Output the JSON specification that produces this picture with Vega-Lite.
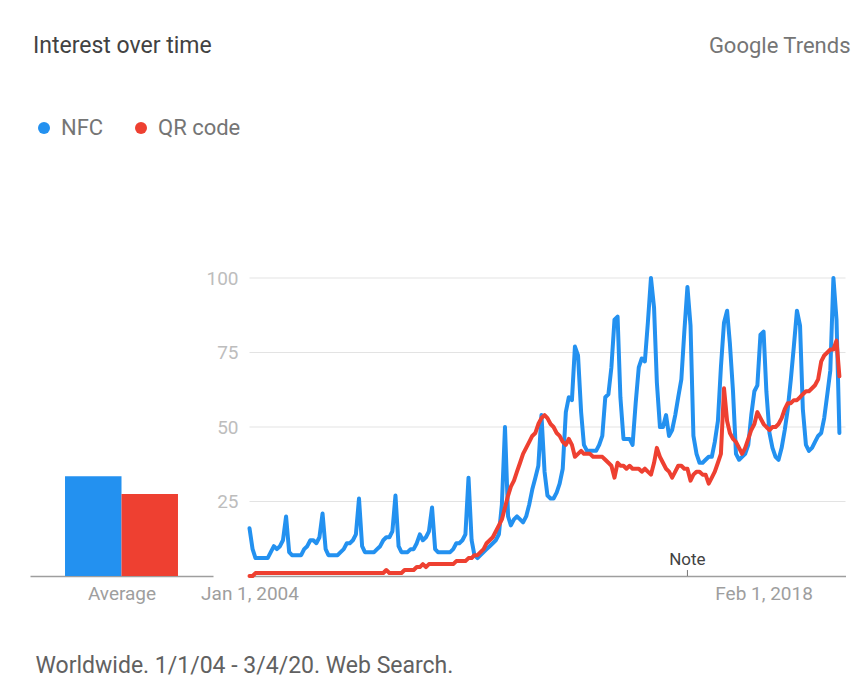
{
  "$schema": "https://vega.github.io/schema/vega-lite/v6.json",
  "width": 864,
  "height": 298,
  "autosize": {"type": "none"},
  "padding": {"left": 0, "top": 278, "right": 0, "bottom": 102},
  "background": "white",
  "config": {"view": {"stroke": null}, "font": "Roboto"},
  "datasets": {
    "averages": [
      {"term": "NFC", "value": 33.5},
      {"term": "QR code", "value": 27.5}
    ],
    "grid": [{"value": 25}, {"value": 50}, {"value": 75}, {"value": 100}],
    "notes": [{"month": "2016-01-01", "note": "Note", "value": 0}],
    "trend": [
      {"month":"2004-01-01","NFC":16,"QR code":0},{"month":"2004-02-01","NFC":9,"QR code":0},{"month":"2004-03-01","NFC":6,"QR code":1},{"month":"2004-04-01","NFC":6,"QR code":1},{"month":"2004-05-01","NFC":6,"QR code":1},{"month":"2004-06-01","NFC":6,"QR code":1},{"month":"2004-07-01","NFC":6,"QR code":1},{"month":"2004-08-01","NFC":8,"QR code":1},{"month":"2004-09-01","NFC":10,"QR code":1},{"month":"2004-10-01","NFC":9,"QR code":1},{"month":"2004-11-01","NFC":10,"QR code":1},{"month":"2004-12-01","NFC":12,"QR code":1},
      {"month":"2005-01-01","NFC":20,"QR code":1},{"month":"2005-02-01","NFC":8,"QR code":1},{"month":"2005-03-01","NFC":7,"QR code":1},{"month":"2005-04-01","NFC":7,"QR code":1},{"month":"2005-05-01","NFC":7,"QR code":1},{"month":"2005-06-01","NFC":7,"QR code":1},{"month":"2005-07-01","NFC":9,"QR code":1},{"month":"2005-08-01","NFC":10,"QR code":1},{"month":"2005-09-01","NFC":12,"QR code":1},{"month":"2005-10-01","NFC":12,"QR code":1},{"month":"2005-11-01","NFC":11,"QR code":1},{"month":"2005-12-01","NFC":13,"QR code":1},
      {"month":"2006-01-01","NFC":21,"QR code":1},{"month":"2006-02-01","NFC":9,"QR code":1},{"month":"2006-03-01","NFC":7,"QR code":1},{"month":"2006-04-01","NFC":7,"QR code":1},{"month":"2006-05-01","NFC":7,"QR code":1},{"month":"2006-06-01","NFC":7,"QR code":1},{"month":"2006-07-01","NFC":8,"QR code":1},{"month":"2006-08-01","NFC":9,"QR code":1},{"month":"2006-09-01","NFC":11,"QR code":1},{"month":"2006-10-01","NFC":11,"QR code":1},{"month":"2006-11-01","NFC":12,"QR code":1},{"month":"2006-12-01","NFC":14,"QR code":1},
      {"month":"2007-01-01","NFC":26,"QR code":1},{"month":"2007-02-01","NFC":10,"QR code":1},{"month":"2007-03-01","NFC":8,"QR code":1},{"month":"2007-04-01","NFC":8,"QR code":1},{"month":"2007-05-01","NFC":8,"QR code":1},{"month":"2007-06-01","NFC":8,"QR code":1},{"month":"2007-07-01","NFC":9,"QR code":1},{"month":"2007-08-01","NFC":10,"QR code":1},{"month":"2007-09-01","NFC":12,"QR code":1},{"month":"2007-10-01","NFC":13,"QR code":2},{"month":"2007-11-01","NFC":13,"QR code":1},{"month":"2007-12-01","NFC":15,"QR code":1},
      {"month":"2008-01-01","NFC":27,"QR code":1},{"month":"2008-02-01","NFC":10,"QR code":1},{"month":"2008-03-01","NFC":8,"QR code":1},{"month":"2008-04-01","NFC":8,"QR code":2},{"month":"2008-05-01","NFC":8,"QR code":2},{"month":"2008-06-01","NFC":9,"QR code":2},{"month":"2008-07-01","NFC":9,"QR code":2},{"month":"2008-08-01","NFC":11,"QR code":3},{"month":"2008-09-01","NFC":14,"QR code":3},{"month":"2008-10-01","NFC":12,"QR code":4},{"month":"2008-11-01","NFC":13,"QR code":3},{"month":"2008-12-01","NFC":15,"QR code":4},
      {"month":"2009-01-01","NFC":23,"QR code":4},{"month":"2009-02-01","NFC":9,"QR code":4},{"month":"2009-03-01","NFC":8,"QR code":4},{"month":"2009-04-01","NFC":8,"QR code":4},{"month":"2009-05-01","NFC":8,"QR code":4},{"month":"2009-06-01","NFC":8,"QR code":4},{"month":"2009-07-01","NFC":8,"QR code":4},{"month":"2009-08-01","NFC":9,"QR code":4},{"month":"2009-09-01","NFC":11,"QR code":5},{"month":"2009-10-01","NFC":11,"QR code":5},{"month":"2009-11-01","NFC":12,"QR code":5},{"month":"2009-12-01","NFC":14,"QR code":5},
      {"month":"2010-01-01","NFC":33,"QR code":6},{"month":"2010-02-01","NFC":12,"QR code":6},{"month":"2010-03-01","NFC":7,"QR code":7},{"month":"2010-04-01","NFC":6,"QR code":7},{"month":"2010-05-01","NFC":7,"QR code":8},{"month":"2010-06-01","NFC":8,"QR code":9},{"month":"2010-07-01","NFC":9,"QR code":11},{"month":"2010-08-01","NFC":10,"QR code":12},{"month":"2010-09-01","NFC":11,"QR code":13},{"month":"2010-10-01","NFC":12,"QR code":15},{"month":"2010-11-01","NFC":14,"QR code":17},{"month":"2010-12-01","NFC":24,"QR code":19},
      {"month":"2011-01-01","NFC":50,"QR code":23},{"month":"2011-02-01","NFC":20,"QR code":27},{"month":"2011-03-01","NFC":17,"QR code":30},{"month":"2011-04-01","NFC":19,"QR code":32},{"month":"2011-05-01","NFC":20,"QR code":35},{"month":"2011-06-01","NFC":19,"QR code":38},{"month":"2011-07-01","NFC":18,"QR code":41},{"month":"2011-08-01","NFC":20,"QR code":43},{"month":"2011-09-01","NFC":24,"QR code":45},{"month":"2011-10-01","NFC":29,"QR code":47},{"month":"2011-11-01","NFC":33,"QR code":48},{"month":"2011-12-01","NFC":37,"QR code":51},
      {"month":"2012-01-01","NFC":54,"QR code":53},{"month":"2012-02-01","NFC":35,"QR code":54},{"month":"2012-03-01","NFC":27,"QR code":53},{"month":"2012-04-01","NFC":26,"QR code":51},{"month":"2012-05-01","NFC":26,"QR code":50},{"month":"2012-06-01","NFC":28,"QR code":48},{"month":"2012-07-01","NFC":31,"QR code":47},{"month":"2012-08-01","NFC":36,"QR code":45},{"month":"2012-09-01","NFC":55,"QR code":44},{"month":"2012-10-01","NFC":60,"QR code":46},{"month":"2012-11-01","NFC":59,"QR code":44},{"month":"2012-12-01","NFC":77,"QR code":40},
      {"month":"2013-01-01","NFC":74,"QR code":41},{"month":"2013-02-01","NFC":55,"QR code":42},{"month":"2013-03-01","NFC":44,"QR code":41},{"month":"2013-04-01","NFC":42,"QR code":41},{"month":"2013-05-01","NFC":42,"QR code":41},{"month":"2013-06-01","NFC":42,"QR code":40},{"month":"2013-07-01","NFC":42,"QR code":40},{"month":"2013-08-01","NFC":44,"QR code":40},{"month":"2013-09-01","NFC":47,"QR code":40},{"month":"2013-10-01","NFC":60,"QR code":39},{"month":"2013-11-01","NFC":61,"QR code":38},{"month":"2013-12-01","NFC":70,"QR code":37},
      {"month":"2014-01-01","NFC":86,"QR code":33},{"month":"2014-02-01","NFC":87,"QR code":38},{"month":"2014-03-01","NFC":60,"QR code":37},{"month":"2014-04-01","NFC":46,"QR code":37},{"month":"2014-05-01","NFC":46,"QR code":36},{"month":"2014-06-01","NFC":46,"QR code":37},{"month":"2014-07-01","NFC":44,"QR code":36},{"month":"2014-08-01","NFC":58,"QR code":36},{"month":"2014-09-01","NFC":70,"QR code":36},{"month":"2014-10-01","NFC":73,"QR code":35},{"month":"2014-11-01","NFC":72,"QR code":36},{"month":"2014-12-01","NFC":85,"QR code":35},
      {"month":"2015-01-01","NFC":100,"QR code":34},{"month":"2015-02-01","NFC":90,"QR code":38},{"month":"2015-03-01","NFC":65,"QR code":43},{"month":"2015-04-01","NFC":50,"QR code":40},{"month":"2015-05-01","NFC":50,"QR code":38},{"month":"2015-06-01","NFC":54,"QR code":36},{"month":"2015-07-01","NFC":47,"QR code":35},{"month":"2015-08-01","NFC":49,"QR code":33},{"month":"2015-09-01","NFC":54,"QR code":35},{"month":"2015-10-01","NFC":60,"QR code":37},{"month":"2015-11-01","NFC":66,"QR code":37},{"month":"2015-12-01","NFC":82,"QR code":36},
      {"month":"2016-01-01","NFC":97,"QR code":36},{"month":"2016-02-01","NFC":84,"QR code":32},{"month":"2016-03-01","NFC":47,"QR code":34},{"month":"2016-04-01","NFC":41,"QR code":35},{"month":"2016-05-01","NFC":38,"QR code":35},{"month":"2016-06-01","NFC":38,"QR code":34},{"month":"2016-07-01","NFC":39,"QR code":34},{"month":"2016-08-01","NFC":40,"QR code":31},{"month":"2016-09-01","NFC":40,"QR code":33},{"month":"2016-10-01","NFC":45,"QR code":35},{"month":"2016-11-01","NFC":52,"QR code":38},{"month":"2016-12-01","NFC":70,"QR code":41},
      {"month":"2017-01-01","NFC":85,"QR code":63},{"month":"2017-02-01","NFC":89,"QR code":52},{"month":"2017-03-01","NFC":78,"QR code":48},{"month":"2017-04-01","NFC":62,"QR code":46},{"month":"2017-05-01","NFC":41,"QR code":45},{"month":"2017-06-01","NFC":39,"QR code":43},{"month":"2017-07-01","NFC":40,"QR code":41},{"month":"2017-08-01","NFC":41,"QR code":43},{"month":"2017-09-01","NFC":44,"QR code":46},{"month":"2017-10-01","NFC":54,"QR code":49},{"month":"2017-11-01","NFC":62,"QR code":51},{"month":"2017-12-01","NFC":64,"QR code":55},
      {"month":"2018-01-01","NFC":81,"QR code":53},{"month":"2018-02-01","NFC":82,"QR code":51},{"month":"2018-03-01","NFC":62,"QR code":50},{"month":"2018-04-01","NFC":48,"QR code":49},{"month":"2018-05-01","NFC":43,"QR code":50},{"month":"2018-06-01","NFC":40,"QR code":50},{"month":"2018-07-01","NFC":39,"QR code":51},{"month":"2018-08-01","NFC":43,"QR code":53},{"month":"2018-09-01","NFC":49,"QR code":56},{"month":"2018-10-01","NFC":56,"QR code":58},{"month":"2018-11-01","NFC":66,"QR code":58},{"month":"2018-12-01","NFC":77,"QR code":59},
      {"month":"2019-01-01","NFC":89,"QR code":59},{"month":"2019-02-01","NFC":84,"QR code":60},{"month":"2019-03-01","NFC":56,"QR code":61},{"month":"2019-04-01","NFC":44,"QR code":62},{"month":"2019-05-01","NFC":42,"QR code":62},{"month":"2019-06-01","NFC":43,"QR code":63},{"month":"2019-07-01","NFC":45,"QR code":64},{"month":"2019-08-01","NFC":47,"QR code":66},{"month":"2019-09-01","NFC":48,"QR code":72},{"month":"2019-10-01","NFC":53,"QR code":74},{"month":"2019-11-01","NFC":61,"QR code":75},{"month":"2019-12-01","NFC":69,"QR code":76},
      {"month":"2020-01-01","NFC":100,"QR code":76},{"month":"2020-02-01","NFC":86,"QR code":79},{"month":"2020-03-01","NFC":48,"QR code":67}
    ]
  },
  "encoding": {
    "y": {
      "field": "value",
      "type": "quantitative",
      "scale": {"domain": [0, 100]},
      "axis": {
        "orient": "left",
        "offset": -244,
        "values": [25, 50, 75, 100],
        "domain": false,
        "ticks": false,
        "grid": false,
        "labelPadding": 6,
        "labelColor": "#bdbdbd",
        "labelFontSize": 19,
        "labelFont": "Roboto",
        "title": "Google Trends",
        "titleAngle": 0,
        "titleX": 606,
        "titleY": -233,
        "titleAlign": "right",
        "titleBaseline": "middle",
        "titleFontSize": 22,
        "titleFontWeight": "normal",
        "titleColor": "#757575",
        "titleFont": "Roboto"
      }
    }
  },
  "layer": [
    {
      "data": {"name": "averages"},
      "mark": {"type": "bar"},
      "encoding": {
        "x": {
          "field": "term",
          "type": "nominal",
          "scale": {"range": [30, 213], "paddingInner": 0, "paddingOuter": 0.62},
          "axis": {
            "orient": "bottom",
            "labels": false,
            "ticks": false,
            "grid": false,
            "domain": true,
            "domainColor": "#9e9e9e",
            "domainWidth": 1.5,
            "title": "Average",
            "titleY": 17,
            "titleBaseline": "middle",
            "titleFontSize": 19,
            "titleFontWeight": "normal",
            "titleColor": "#9e9e9e",
            "titleFont": "Roboto"
          }
        },
        "color": {
          "field": "term",
          "type": "nominal",
          "scale": {"domain": ["NFC", "QR code"], "range": ["#2391F0", "#EE4031"]},
          "legend": {
            "orient": "none",
            "legendX": 33,
            "legendY": -243,
            "direction": "horizontal",
            "columns": 2,
            "title": "Interest over time",
            "titleFontSize": 23,
            "titleFont": "Roboto",
            "titleFontWeight": "normal",
            "titleColor": "#424242",
            "titlePadding": 59,
            "titleLimit": 500,
            "labelFontSize": 22,
            "labelFont": "Roboto",
            "labelColor": "#757575",
            "labelOffset": 6,
            "symbolType": "circle",
            "symbolSize": 144,
            "symbolStrokeWidth": 0,
            "columnPadding": 26
          }
        }
      }
    },
    {
      "layer": [
        {
          "data": {"name": "grid"},
          "mark": {"type": "rule", "color": "#e3e3e3", "strokeWidth": 1.2},
          "encoding": {
            "x": {"datum": {"year": 2004, "month": 1, "date": 1, "utc": true}, "type": "temporal"},
            "x2": {"datum": {"year": 2020, "month": 5, "date": 1, "utc": true}}
          }
        },
        {
          "data": {"name": "trend"},
          "transform": [{"fold": ["NFC", "QR code"], "as": ["term", "value"]}],
          "mark": {"type": "line", "strokeWidth": 4, "strokeJoin": "round", "strokeCap": "round"},
          "encoding": {
            "x": {
              "field": "month",
              "type": "temporal",
              "scale": {
                "type": "utc",
                "domain": [{"year": 2004, "month": 1, "date": 1, "utc": true}, {"year": 2020, "month": 5, "date": 1, "utc": true}],
                "range": [249.5, 845.5]
              },
              "axis": {
                "orient": "bottom",
                "values": [{"year": 2004, "month": 1, "date": 1, "utc": true}, {"year": 2018, "month": 2, "date": 1, "utc": true}],
                "format": "%b %-d, %Y",
                "labelFlush": false,
                "labelOverlap": false,
                "labelColor": "#9e9e9e",
                "labelFontSize": 19,
                "labelFont": "Roboto",
                "labelPadding": 8,
                "ticks": false,
                "grid": false,
                "domain": true,
                "domainColor": "#9e9e9e",
                "domainWidth": 1.5,
                "title": "Worldwide. 1/1/04 - 3/4/20. Web Search.",
                "titleX": 35,
                "titleY": 89,
                "titleAlign": "left",
                "titleAnchor": "start",
                "titleBaseline": "middle",
                "titleFontSize": 23,
                "titleFontWeight": "normal",
                "titleColor": "#616161",
                "titleFont": "Roboto"
              }
            },
            "stroke": {
              "field": "term",
              "type": "nominal",
              "scale": {"domain": ["NFC", "QR code"], "range": ["#2391F0", "#EE4031"]},
              "legend": null
            }
          }
        },
        {
          "data": {"name": "notes"},
          "mark": {"type": "rule", "color": "#757575", "strokeWidth": 1},
          "encoding": {
            "x": {"field": "month", "type": "temporal"},
            "y2": {"datum": 2}
          }
        },
        {
          "data": {"name": "notes"},
          "mark": {"type": "text", "fontSize": 17, "font": "Roboto", "fill": "#424242", "baseline": "middle", "dy": -16},
          "encoding": {
            "x": {"field": "month", "type": "temporal"},
            "text": {"field": "note", "type": "nominal"}
          }
        }
      ]
    }
  ],
  "resolve": {"scale": {"x": "independent"}, "axis": {"x": "independent"}}
}
